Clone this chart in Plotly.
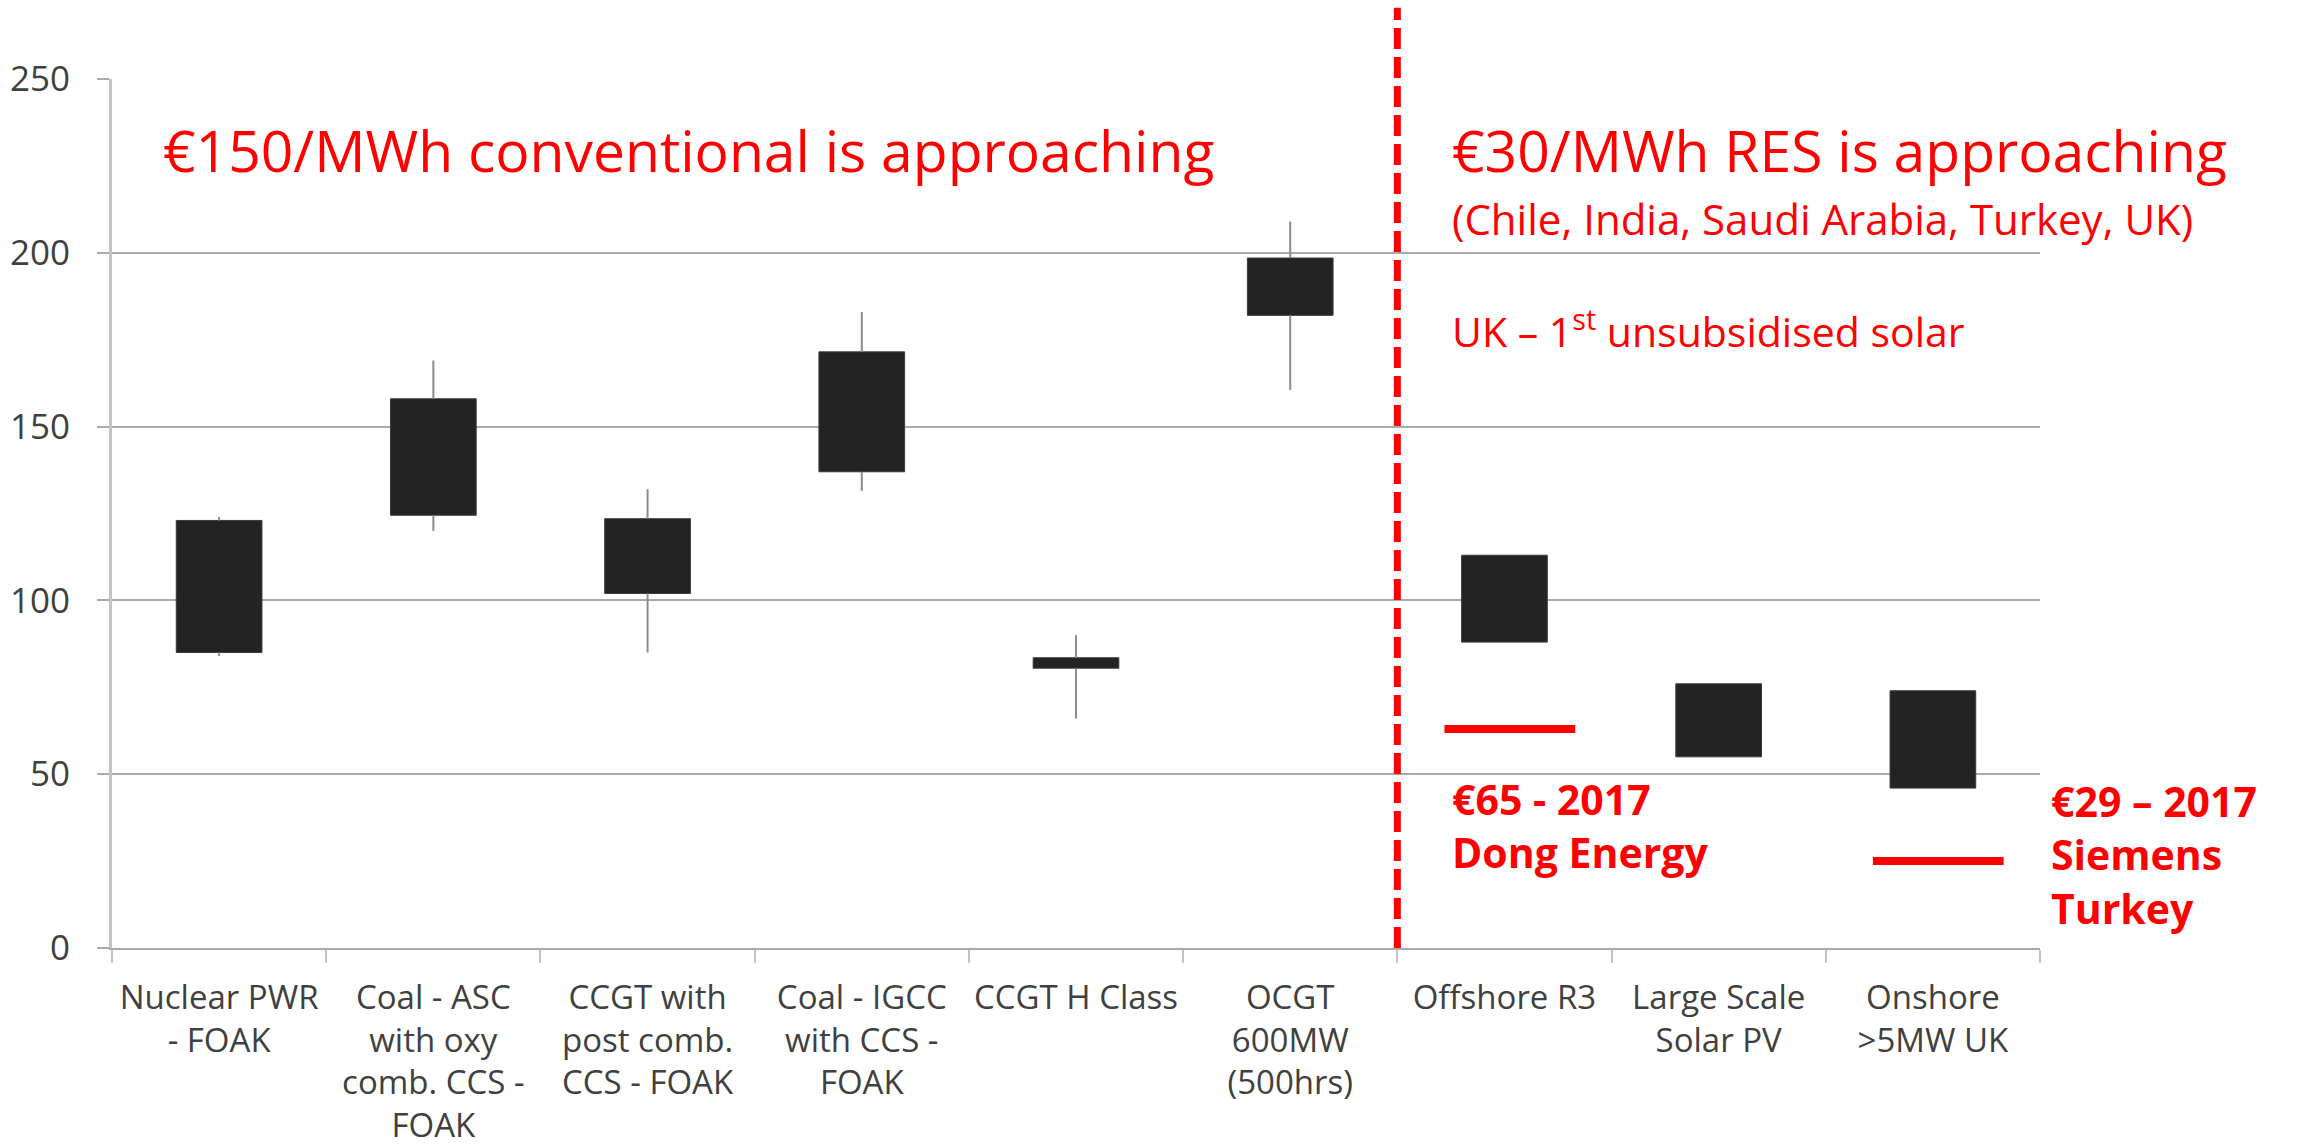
import plotly.graph_objects as go

# ---------------- data ----------------
categories = [
    "Nuclear PWR<br>- FOAK",
    "Coal - ASC<br>with oxy<br>comb. CCS -<br>FOAK",
    "CCGT with<br>post comb.<br>CCS - FOAK",
    "Coal - IGCC<br>with CCS -<br>FOAK",
    "CCGT H Class",
    "OCGT<br>600MW<br>(500hrs)",
    "Offshore R3",
    "Large Scale<br>Solar PV",
    "Onshore<br>>5MW UK",
]
box_low = [85, 124.5, 102, 137, 80.5, 182, 88, 55, 46]
box_high = [123, 158, 123.5, 171.5, 83.5, 198.5, 113, 76, 74]
whisker_low = [84, 120, 85, 131.5, 66, 160.5, 88, 55, 46]
whisker_high = [124, 169, 132, 183, 90, 209, 113, 76, 74]

marker_categories = ["Offshore R3", "Onshore<br>>5MW UK"]
marker_values = [63, 25]

y_ticks = [0, 50, 100, 150, 200, 250]

# ---------------- styles ----------------
FONT = "Open Sans"
RED = "#ff0000"
GRID = "#aaaaaa"
AXIS = "#c4c4c4"
BOX = "#232323"
LABEL = "#404040"

fig = go.Figure()

# whiskers (drawn outside the boxes only)
wx, wy = [], []
for c, lo, blo, bhi, hi in zip(categories, whisker_low, box_low, box_high, whisker_high):
    if lo < blo:
        wx += [c, c, None]
        wy += [lo, blo, None]
    if hi > bhi:
        wx += [c, c, None]
        wy += [bhi, hi, None]
fig.add_trace(go.Scatter(x=wx, y=wy, mode="lines",
                         line=dict(color="#8c8c8c", width=2),
                         hoverinfo="skip", showlegend=False))

# boxes
fig.add_trace(go.Bar(
    x=categories,
    y=[h - l for h, l in zip(box_high, box_low)],
    base=box_low,
    width=0.4,
    marker=dict(color=BOX, line=dict(color="#3a3a3a", width=1)),
    showlegend=False,
))

shapes = []
# red reference markers
for c, v in zip(marker_categories, marker_values):
    i = categories.index(c)
    shapes.append(dict(type="line", xref="x", yref="y",
                       x0=i - 0.28, x1=i + 0.33, y0=v, y1=v,
                       line=dict(color=RED, width=8)))
# dashed divider between conventional and RES
div = categories.index("Offshore R3") - 0.5
shapes.append(dict(type="line", xref="x", yref="paper",
                   x0=div, x1=div, y0=0, y1=1.082,
                   line=dict(color=RED, width=7, dash="21px,8px")))

annotations = [
    dict(text="€150/MWh conventional is approaching", x=0.0254, y=0.918,
         font=dict(size=57, color=RED, family=FONT)),
    dict(text="€30/MWh RES is approaching", x=0.694, y=0.918,
         font=dict(size=57, color=RED, family=FONT)),
    dict(text="(Chile, India, Saudi Arabia, Turkey, UK)", x=0.694, y=0.839,
         font=dict(size=42, color=RED, family=FONT)),
    dict(text="UK – 1<sup>st</sup> unsubsidised solar", x=0.694, y=0.712,
         font=dict(size=41, color=RED, family=FONT)),
    dict(text="<b>€65 - 2017<br>Dong Energy</b>", x=0.694, y=0.1415,
         font=dict(size=41, color=RED, family=FONT)),
    dict(text="<b>€29 – 2017<br>Siemens<br>Turkey</b>", x=1.0047, y=0.108,
         font=dict(size=41, color=RED, family=FONT)),
]
for a in annotations:
    a.update(xref="paper", yref="paper", xanchor="left", yanchor="middle",
             showarrow=False, align="left")

fig.update_layout(
    width=2302, height=1146,
    margin=dict(l=112, r=262, t=79, b=198, autoexpand=False),
    paper_bgcolor="white", plot_bgcolor="white",
    showlegend=False,
    shapes=shapes,
    annotations=annotations,
    font=dict(family=FONT, color=LABEL),
    xaxis=dict(
        type="category",
        categoryorder="array", categoryarray=categories,
        range=[-0.5, len(categories) - 0.5],
        tickson="boundaries",
        ticks="outside", ticklen=13, tickwidth=2, tickcolor=AXIS,
        showline=True, linecolor=GRID, linewidth=2,
        showgrid=False,
        tickangle=0,
        automargin=False,
        tickfont=dict(size=33, color=LABEL, family=FONT),
        ticklabelstandoff=19,
        fixedrange=True,
    ),
    yaxis=dict(
        range=[0, 250],
        tickvals=y_ticks,
        ticks="outside", ticklen=12, tickwidth=2, tickcolor=GRID,
        showline=True, linecolor=AXIS, linewidth=3,
        showgrid=True, gridcolor=GRID, gridwidth=2,
        zeroline=False,
        automargin=False,
        tickfont=dict(size=35, color=LABEL, family=FONT),
        ticklabelstandoff=20,
    ),
)

fig.write_html("out.html", config={"displayModeBar": False},
               post_script="document.body.style.margin='0';")
